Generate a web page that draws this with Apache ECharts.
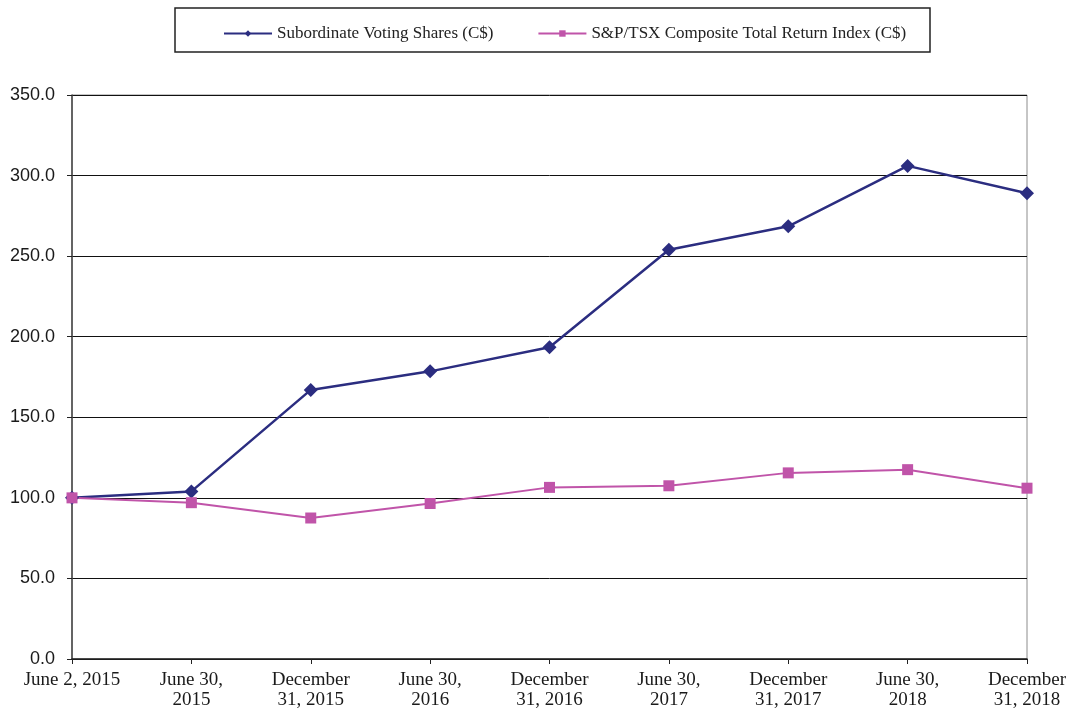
<!DOCTYPE html>
<html>
<head>
<meta charset="utf-8">
<script src="https://cdn.jsdelivr.net/npm/echarts@6/dist/echarts.min.js"></script>
<style>
  html, body { margin: 0; padding: 0; background: #fff; }
  #chart { width: 1070px; height: 710px; }
</style>
</head>
<body>
<div id="chart"></div>
<script>
  var categories = ['June 2, 2015', 'June 30,\n2015', 'December\n31, 2015', 'June 30,\n2016', 'December\n31, 2016',
    'June 30,\n2017', 'December\n31, 2017', 'June 30,\n2018', 'December\n31, 2018']
  var votingShares = [100, 104, 167, 178.5, 193.5, 254, 268.5, 306, 289]
  var tsxIndex = [100, 97, 87.5, 96.5, 106.5, 107.5, 115.5, 117.5, 106]
  var seriesNames = ['Subordinate Voting Shares (C$)', 'S&P/TSX Composite Total Return Index (C$)']

  var myChart = echarts.init(document.getElementById('chart'))
  var option = {
    animation: false,
    textStyle: { fontFamily: 'Liberation Serif' },
    graphic: [{
      type: 'rect',
      shape: { x: 175, y: 8, width: 755, height: 44 },
      style: { fill: 'none', stroke: '#222', lineWidth: 1.5 }
    }],
    legend: {
      top: 20,
      left: 218,
      itemWidth: 48,
      itemHeight: 8,
      itemGap: 44,
      textStyle: { fontFamily: 'Liberation Serif', fontSize: 17, color: '#222' },
      data: seriesNames
    },
    grid: {
      left: 72, right: 43, top: 95, bottom: 51,
      show: true, borderColor: '#8c8c8c', borderWidth: 1
    },
    xAxis: {
      type: 'category',
      boundaryGap: false,
      data: categories,
      axisLine: { lineStyle: { color: '#222', width: 1.5 } },
      axisTick: { show: true, length: 5, lineStyle: { color: '#222' } },
      axisLabel: {
        interval: 0, color: '#1a1a1a', fontSize: 19, lineHeight: 20, margin: 11,
        fontFamily: 'Liberation Serif'
      }
    },
    yAxis: {
      type: 'value',
      min: 0, max: 350, interval: 50,
      axisLine: { show: true, lineStyle: { color: '#444', width: 1.5 } },
      axisTick: { show: true, length: 5, lineStyle: { color: '#222' } },
      axisLabel: {
        color: '#1a1a1a', fontSize: 18, margin: 17, fontFamily: 'Liberation Sans',
        formatter: function (v) { return v.toFixed(1) }
      },
      splitLine: { lineStyle: { color: '#111', width: 1 } }
    },
    series: [
      {
        name: seriesNames[0],
        type: 'line',
        data: votingShares,
        symbol: 'diamond',
        symbolSize: 14,
        color: '#2b2d80',
        lineStyle: { width: 2.5 }
      },
      {
        name: seriesNames[1],
        type: 'line',
        data: tsxIndex,
        symbol: 'rect',
        symbolSize: 11,
        color: '#c054a9',
        lineStyle: { width: 2 }
      }
    ]
  }
  myChart.setOption(option)
</script>
</body>
</html>
